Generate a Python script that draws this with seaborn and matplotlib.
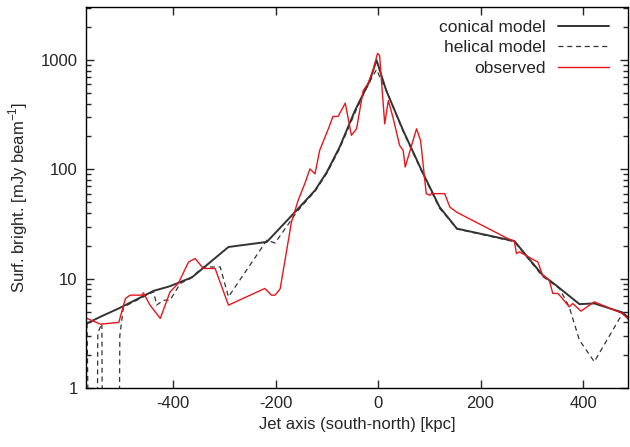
import numpy as np
import pandas as pd
import matplotlib
matplotlib.use("Agg")
import matplotlib.pyplot as plt
import seaborn as sns

# conical model (solid)
conical_x = [-568, -542, -506, -438, -406, -363, -292, -217, -159, -123, -100, -75,
             -45, -16, -3, 16, 49, 85, 120, 154, 266, 321, 347, 393, 422, 477, 490]
conical_y = [3.9, 4.48, 5.35, 7.74, 8.54, 10.3, 19.5, 21.7, 42.2, 64.3, 94.5, 160,
             346, 650, 1000, 526, 227, 98, 45.3, 28.7, 22.1, 10.8, 8.73, 5.85, 5.94, 4.91, 4.33]

# helical model (dashed) -- drops below the plot range at the far south end
helical_x = [-568, -565, -548, -547, -539, -538, -505, -504, -497, -438, -432, -419,
             -406, -386, -367, -341, -308, -292, -217, -201, -159, -139, -123, -100,
             -75, -45, -30, -13, -3, 7, 17, 49, 85, 120, 140, 154, 266, 321, 354,
             373, 393, 422, 477, 490]
helical_y = [3.9, 0.3, 0.3, 3.2, 3.9, 0.3, 0.3, 3.0, 5.5, 7.6, 5.73, 6.36,
             6.36, 9.04, 10.0, 12.8, 12.8, 6.82, 22.5, 21.2, 40.5, 52.1, 63, 92,
             155, 330, 470, 680, 820, 640, 520, 222, 96, 44, 34.2, 28.5, 21.8, 10.5, 8.14,
             5.53, 2.74, 1.74, 4.8, 4.3]

# observed (red)
observed_x = [-568, -542, -506, -493, -484, -461, -458, -445, -425, -406, -390, -370,
              -357, -341, -318, -292, -221, -208, -201, -191, -169, -156, -143, -133,
              -123, -114, -97, -88, -78, -64, -52, -42, -29, -20, -10, -1, 3, 13,
              20, 29, 42, 49, 53, 75, 83, 94, 101, 104, 130, 140, 153, 253, 266,
              270, 276, 299, 312, 321, 334, 341, 351, 357, 373, 380, 396, 422, 477, 490]
observed_y = [4.33, 3.84, 3.98, 6.59, 7.07, 7.07, 7.42, 5.73, 4.33, 7.57, 9.04, 14.2,
              15.3, 12.4, 12.4, 5.73, 8.14, 7.07, 7.07, 8.1, 33, 52, 74, 101,
              91, 149, 235, 305, 305, 404, 205, 235, 526, 606, 802, 1153, 1100, 261,
              427, 300, 166, 149, 105, 235, 184, 60, 58, 60, 60, 45.3, 40.7, 23.3, 22.1,
              17, 17.6, 15.3, 14.2, 10.8, 9.7, 7.33, 7.33, 6.82, 5.53, 5.93, 5.05, 6.14, 4.8, 4.18]

conical = pd.DataFrame({"x": conical_x, "y": conical_y})
helical = pd.DataFrame({"x": helical_x, "y": helical_y})
observed = pd.DataFrame({"x": observed_x, "y": observed_y})

sns.set_style("ticks")
plt.rcParams["font.family"] = ["Liberation Sans", "DejaVu Sans"]
plt.rcParams["mathtext.fontset"] = "custom"
plt.rcParams["mathtext.rm"] = "Liberation Sans"
plt.rcParams["axes.unicode_minus"] = False

fig = plt.figure(figsize=(6.3, 4.47), dpi=100)
ax = fig.add_axes([0.1365, 0.132, 0.8605, 0.852])

sns.lineplot(data=conical, x="x", y="y", sort=False, estimator=None, ax=ax,
             color="#333333", linewidth=1.4, label="conical model")
sns.lineplot(data=helical, x="x", y="y", sort=False, estimator=None, ax=ax,
             color="#333333", linewidth=0.9, dashes=False, label="helical model")
ax.lines[-1].set_linestyle((0, (4, 3)))
sns.lineplot(data=observed, x="x", y="y", sort=False, estimator=None, ax=ax,
             color="#e8161b", linewidth=1.0, label="observed")

ax.set_yscale("log")
ax.set_xlim(-570, 488)
ax.set_ylim(1, 3050)
ax.set_xticks([-400, -200, 0, 200, 400])
ax.set_yticks([1, 10, 100, 1000], labels=["1", "10", "100", "1000"])

for s in ax.spines.values():
    s.set_linewidth(1.0)
    s.set_color("black")
ax.tick_params(which="both", direction="in", top=True, right=True, labelsize=12, width=1.0)
ax.tick_params(which="major", length=6, pad=6)
ax.tick_params(which="minor", length=3.5)

ax.set_xlabel("Jet axis (south-north) [kpc]", fontsize=12, labelpad=4)
ax.set_ylabel("Surf. bright. [mJy beam$^{-1}$]", fontsize=12, labelpad=8)

leg = ax.legend(loc="upper right", frameon=False, markerfirst=False, fontsize=12.5,
                handlelength=2.9, handletextpad=0.7, labelspacing=0.3,
                borderaxespad=0.0, bbox_to_anchor=(0.977, 0.985))

fig.savefig("out.png", dpi=100)
